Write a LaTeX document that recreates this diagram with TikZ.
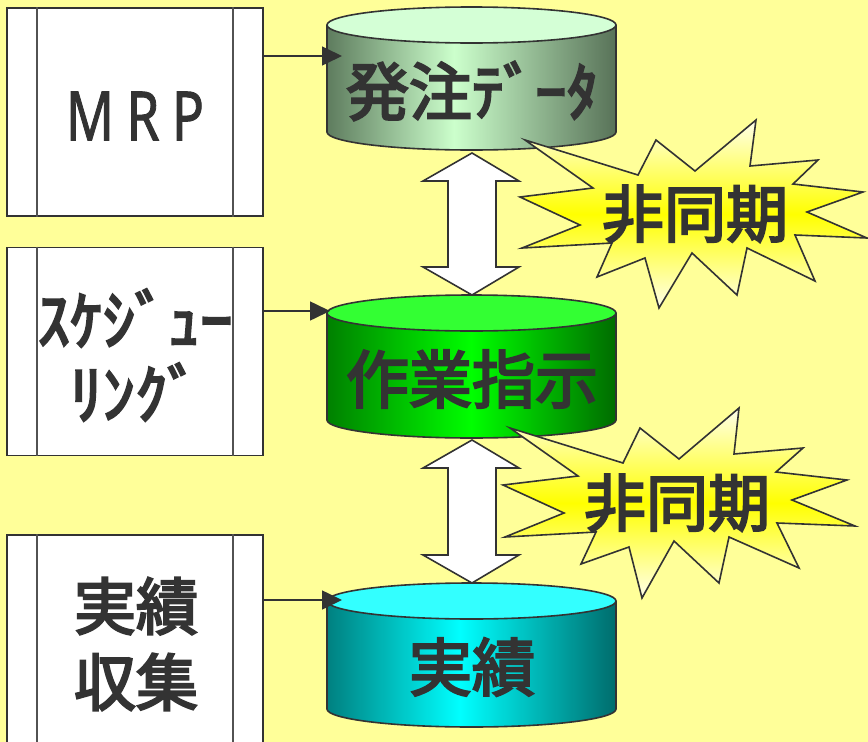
\documentclass[tikz,border=0pt]{standalone}
\usepackage{fontspec}
\newfontfamily\jp{Noto Sans CJK JP}[FakeBold=3.5]
\newfontfamily\lat{Noto Sans}[FakeBold=1.5]
\usetikzlibrary{arrows.meta}
\definecolor{bgc}{RGB}{255,255,153}
\definecolor{ink}{RGB}{51,51,51}
\definecolor{aL}{RGB}{94,124,94}
\definecolor{aC}{RGB}{204,255,204}
\definecolor{aR}{RGB}{88,114,88}
\definecolor{aT}{RGB}{212,255,214}
\definecolor{bL}{RGB}{0,128,0}
\definecolor{bC}{RGB}{0,255,0}
\definecolor{bR}{RGB}{0,108,0}
\definecolor{bT}{RGB}{51,255,51}
\definecolor{cL}{RGB}{0,128,128}
\definecolor{cC}{RGB}{0,255,255}
\definecolor{cR}{RGB}{0,108,108}
\definecolor{cT}{RGB}{51,255,255}
\definecolor{burstEdge}{RGB}{255,255,235}
\pgfdeclarehorizontalshading{shA}{100bp}{color(0bp)=(aL); color(25bp)=(aL); color(47bp)=(aC); color(75bp)=(aR); color(100bp)=(aR)}
\pgfdeclarehorizontalshading{shB}{100bp}{color(0bp)=(bL); color(25bp)=(bL); color(50bp)=(bC); color(75bp)=(bR); color(100bp)=(bR)}
\pgfdeclarehorizontalshading{shC}{100bp}{color(0bp)=(cL); color(25bp)=(cL); color(48bp)=(cC); color(75bp)=(cR); color(100bp)=(cR)}
\tikzset{
 lw/.style={line width=1.6pt},
 procbox/.style={draw=ink, line width=1.6pt, fill=white, minimum width=256pt, minimum height=208pt, inner sep=0pt},
 divider/.style={draw=ink!85, line width=1.6pt},
 conn/.style={draw=ink, line width=1.6pt, -{Triangle[length=20pt,width=19pt]}},
 bigtxt/.style={text=ink, inner sep=0pt, font=\jp\fontsize{63}{74}\selectfont},
 boxtxt/.style={text=ink, inner sep=0pt, align=center},
 dblarrow/.style={draw=ink, line width=1.6pt, fill=white, line join=miter},
 burst/.style={draw=ink, line width=1.6pt, line join=miter, top color=burstEdge, bottom color=burstEdge, middle color=yellow},
}
\begin{document}
\begin{tikzpicture}[x=1pt,y=-1pt]
\useasboundingbox (0,0) rectangle (868,742);
\clip (0,0) rectangle (868,742);
\fill[bgc] (0,0) rectangle (868,742);

% process boxes
\node[procbox] (b1) at (135,112) {};
\node[procbox] (b2) at (135,351.5) {};
\node[procbox, minimum height=230pt] (b3) at (135,650) {};
\foreach \b in {b1,b2,b3}{
  \draw[divider] ([xshift=31pt]\b.north west) -- ([xshift=31pt]\b.south west);
  \draw[divider] ([xshift=-31pt]\b.north east) -- ([xshift=-31pt]\b.south east);
}
\node[boxtxt, font=\lat\fontsize{68}{70}\selectfont] (t1) at (135,116) {\scalebox{0.78}[1]{M\hspace{16pt}R\hspace{16pt}P}};
\node[boxtxt, font=\jp\fontsize{65}{74}\selectfont] (t2) at (135,355) {ｽｹｼﾞｭｰ\\ﾘﾝｸﾞ};
\node[boxtxt, font=\jp\fontsize{62}{76}\selectfont] (t3) at (136,644) {実績\\収集};

% cylinders
\foreach \yt/\yb/\sh/\tc in {25/132/shA/aT, 313/420/shB/bT, 601/709/shC/cT}{
  \shade[shading=\sh] (327,\yt) -- (327,\yb) .. controls (327,\yb+9.94) and (391.7,\yb+18) .. (471.5,\yb+18) .. controls (551.3,\yb+18) and (616,\yb+9.94) .. (616,\yb) -- (616,\yt) -- cycle;
  \draw[ink, lw] (327,\yt) -- (327,\yb) .. controls (327,\yb+9.94) and (391.7,\yb+18) .. (471.5,\yb+18) .. controls (551.3,\yb+18) and (616,\yb+9.94) .. (616,\yb) -- (616,\yt);
  \draw[ink, lw, fill=\tc] (471.5,\yt) ellipse [x radius=144.5, y radius=18];
}
\node[bigtxt] (c1) at (472,91) {発注ﾃﾞｰﾀ};
\node[bigtxt] (c2) at (472,379) {作業指示};
\node[bigtxt] (c3) at (472,667) {実績};

% connectors from boxes to cylinders
\coordinate (p1) at (263,56);  \coordinate (q1) at (342,56);
\coordinate (p2) at (263,311); \coordinate (q2) at (330,311);
\coordinate (p3) at (263,600); \coordinate (q3) at (342,600);
\draw[conn] (p1) -- (q1);
\draw[conn] (p2) -- (q2);
\draw[conn] (p3) -- (q3);

% double arrows between cylinders
\draw[dblarrow] (472,153) -- (519,181) -- (496,181) -- (496,267) -- (519,267) -- (472,295) -- (423,267) -- (448,267) -- (448,181) -- (423,181) -- cycle;
\draw[dblarrow] (472,440) -- (519,468) -- (496,468) -- (496,555) -- (519,555) -- (472,583) -- (423,555) -- (448,555) -- (448,468) -- (423,468) -- cycle;

% bursts
\draw[burst] (525,140) -- (638,175) -- (656,140) -- (695,171) -- (756,120) -- (750,166) -- (818,160) -- (793,184) -- (863,192) -- (807,212) -- (867,238) -- (795,235) -- (815,281) -- (747,248) -- (737,295) -- (692,253) -- (659,308) -- (645,258) -- (597,277) -- (612,243) -- (522,248) -- (580,225) -- (520,197) -- (593,188) -- cycle;
\draw[burst] (510,428) -- (623,463) -- (640,428) -- (679,459) -- (739,408) -- (734,454) -- (803,448) -- (776,472) -- (847,480) -- (792,500) -- (855,526) -- (777,523) -- (799,568) -- (729,537) -- (719,583) -- (674,541) -- (642,598) -- (629,547) -- (581,564) -- (596,532) -- (505,537) -- (564,513) -- (503,485) -- (578,476) -- cycle;
\node[bigtxt, font=\jp\fontsize{62}{70}\selectfont] (s1) at (695,214) {非同期};
\node[bigtxt, font=\jp\fontsize{62}{70}\selectfont] (s2) at (677,503) {非同期};
\end{tikzpicture}
\end{document}
